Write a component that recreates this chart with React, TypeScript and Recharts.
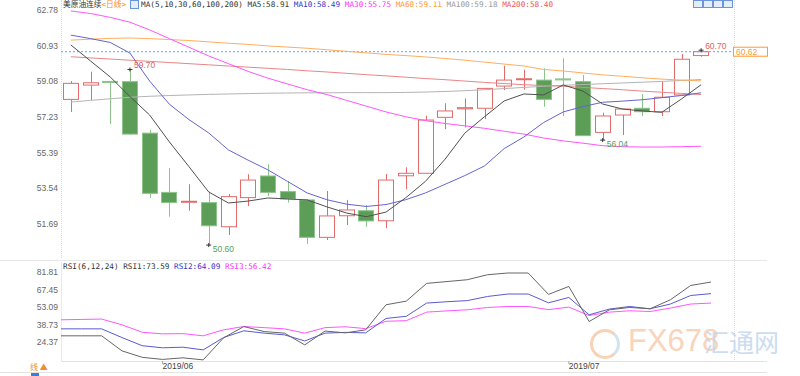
import React from 'react';
import { ComposedChart, Bar, Line, XAxis, YAxis, ReferenceLine, ReferenceDot } from 'recharts';

const dates = [
  '2019-05-27', '2019-05-28', '2019-05-29', '2019-05-30', '2019-05-31',
  '2019-06-03', '2019-06-04', '2019-06-05', '2019-06-06', '2019-06-07',
  '2019-06-10', '2019-06-11', '2019-06-12', '2019-06-13', '2019-06-14',
  '2019-06-17', '2019-06-18', '2019-06-19', '2019-06-20', '2019-06-21',
  '2019-06-24', '2019-06-25', '2019-06-26', '2019-06-27', '2019-06-28',
  '2019-07-01', '2019-07-02', '2019-07-03', '2019-07-04', '2019-07-05',
  '2019-07-08', '2019-07-09', '2019-07-10',
];
const open = [58.15, 58.89, 59.08, 59.07, 56.40, 53.33, 52.83, 52.80, 51.55, 53.06, 54.18, 53.37, 52.94, 51.00, 52.12, 52.38, 51.86, 54.19, 54.32, 57.22, 57.66, 57.69, 58.84, 59.18, 59.15, 59.21, 59.07, 56.44, 57.34, 57.69, 57.51, 58.38, 60.42];
const high = [59.10, 59.58, 59.08, 59.70, 56.56, 54.59, 53.75, 53.37, 53.25, 54.27, 54.79, 53.92, 52.98, 53.40, 52.94, 52.68, 54.28, 54.63, 57.30, 57.95, 58.20, 58.74, 59.89, 59.69, 59.76, 60.28, 59.41, 57.46, 57.65, 58.43, 59.07, 60.50, 60.70];
const low = [57.50, 58.12, 56.87, 56.33, 53.04, 52.07, 52.38, 50.60, 51.12, 52.62, 53.14, 52.80, 50.66, 50.86, 51.64, 51.55, 51.47, 53.49, 54.30, 56.61, 56.70, 57.13, 58.63, 58.65, 57.77, 57.29, 56.25, 56.04, 56.30, 57.29, 57.29, 58.36, 60.36];
const close = [58.98, 59.01, 59.04, 56.35, 53.28, 52.80, 52.87, 51.60, 53.11, 53.97, 53.33, 52.99, 51.00, 52.11, 52.42, 51.85, 53.97, 54.32, 57.08, 57.55, 57.72, 58.72, 59.15, 59.22, 58.15, 59.17, 56.27, 57.29, 57.65, 57.51, 58.26, 60.23, 60.62];

const ma5 = [60.97, 60.14, 59.31, 58.30, 57.34, 55.95, 54.66, 53.35, 52.78, 52.88, 53.04, 52.99, 52.94, 52.58, 52.26, 52.07, 52.31, 53.05, 53.90, 55.05, 56.40, 57.25, 58.07, 58.43, 58.38, 58.90, 58.58, 57.91, 57.65, 57.55, 57.48, 58.17, 58.91];
const ma10 = [61.48, 61.30, 61.10, 60.55, 59.10, 57.90, 57.10, 56.41, 55.53, 55.00, 54.50, 53.90, 53.30, 52.95, 52.72, 52.60, 52.70, 52.95, 53.30, 53.75, 54.20, 54.70, 55.60, 56.20, 56.95, 57.50, 57.78, 58.00, 58.06, 58.13, 58.24, 58.35, 58.49];
const ma30 = [62.73, 62.60, 62.40, 62.15, 61.75, 61.30, 60.85, 60.40, 60.00, 59.60, 59.25, 58.95, 58.65, 58.40, 58.10, 57.80, 57.50, 57.25, 57.05, 56.90, 56.78, 56.65, 56.50, 56.35, 56.15, 56.00, 55.88, 55.75, 55.70, 55.68, 55.68, 55.70, 55.72];
const ma60 = [61.22, 61.27, 61.31, 61.33, 61.30, 61.25, 61.20, 61.13, 61.06, 61.00, 60.92, 60.86, 60.80, 60.72, 60.64, 60.56, 60.48, 60.42, 60.35, 60.27, 60.18, 60.08, 59.98, 59.88, 59.70, 59.62, 59.52, 59.42, 59.35, 59.27, 59.20, 59.15, 59.11];
const ma100 = [58.01, 58.10, 58.18, 58.26, 58.31, 58.35, 58.38, 58.41, 58.43, 58.45, 58.47, 58.48, 58.49, 58.49, 58.50, 58.50, 58.50, 58.51, 58.53, 58.56, 58.60, 58.65, 58.71, 58.77, 58.83, 58.88, 58.92, 58.96, 59.00, 59.04, 59.08, 59.13, 59.18];
const ma200 = [60.36, 60.30, 60.24, 60.18, 60.12, 60.06, 60.00, 59.94, 59.88, 59.82, 59.76, 59.70, 59.63, 59.57, 59.50, 59.43, 59.37, 59.30, 59.23, 59.17, 59.10, 59.03, 58.97, 58.91, 58.87, 58.83, 58.77, 58.71, 58.65, 58.58, 58.52, 58.46, 58.40];

const rsi1 = [29.6, 29.6, 29.6, 17.3, 12.0, 10.3, 11.6, 9.9, 27.9, 37.2, 33.1, 31.8, 22.2, 33.5, 32.0, 34.5, 55.0, 58.0, 72.5, 74.0, 75.5, 79.6, 81.0, 81.0, 63.5, 70.0, 41.3, 50.9, 52.8, 51.7, 59.1, 70.8, 73.6];
const rsi2 = [35.3, 35.3, 35.3, 28.2, 21.5, 19.8, 20.3, 18.1, 28.2, 33.7, 31.8, 30.4, 25.4, 31.8, 32.4, 32.0, 43.8, 45.6, 56.4, 57.5, 58.4, 61.8, 63.8, 63.8, 56.6, 61.0, 46.8, 51.5, 53.6, 51.7, 55.6, 62.6, 64.1];
const rsi3 = [42.7, 43.0, 43.3, 38.6, 32.5, 31.2, 31.4, 29.6, 34.5, 37.2, 36.3, 35.3, 31.8, 36.3, 37.0, 35.5, 41.5, 42.0, 49.0, 50.0, 50.9, 52.8, 53.6, 53.6, 51.0, 53.1, 46.2, 49.0, 50.1, 49.5, 52.3, 55.6, 56.4];

const priceTicks = [51.69, 53.54, 55.39, 57.23, 59.08, 60.93, 62.78];
const rsiTicks = [24.37, 38.73, 53.09, 67.45, 81.81];
const monthTicks = ['2019-06-03', '2019-07-01'];
const monthLabels = ['2019/06', '2019/07'];
const lastClose = 60.62;
const marks = [
  { date: '2019-05-30', value: 59.7, kind: 'high' },
  { date: '2019-06-05', value: 50.6, kind: 'low' },
  { date: '2019-07-03', value: 56.04, kind: 'low' },
  { date: '2019-07-10', value: 60.7, kind: 'high' },
];

const data = dates.map((d, i) => ({
  date: d,
  open: open[i], high: high[i], low: low[i], close: close[i],
  ma5: ma5[i], ma10: ma10[i], ma30: ma30[i], ma60: ma60[i], ma100: ma100[i], ma200: ma200[i],
  rsi1: rsi1[i], rsi2: rsi2[i], rsi3: rsi3[i],
}));

const UP = '#e46a6a';
const DOWN = '#5c9e58';
const DOWN_WICK = '#8cc48a';
const axisFont = { fontSize: 8.5, fill: '#666', fontFamily: "'Liberation Sans', Arial, sans-serif" };
const mono = "'DejaVu Sans Mono', 'Noto Sans CJK SC', monospace";

const Candle = (props: any) => {
  const { x, y, width, height, payload } = props;
  if (!payload) return null;
  const top = Math.min(y, y + height);
  const h = Math.abs(height);
  const span = payload.high - payload.low || 1;
  const py = (v: number) => top + ((payload.high - v) / span) * h;
  const cx = Math.round(x + width / 2) + 0.5;
  const up = payload.close >= payload.open;
  const bTop = py(Math.max(payload.open, payload.close));
  const bBot = py(Math.min(payload.open, payload.close));
  const bh = Math.max(1, bBot - bTop);
  const bx = Math.round(x) + 0.5;
  if (up) {
    return (
      <g>
        <line x1={cx} x2={cx} y1={top} y2={bTop} stroke={UP} />
        <line x1={cx} x2={cx} y1={bTop + bh} y2={top + h} stroke={UP} />
        <rect x={bx} y={bTop} width={Math.round(width) - 1} height={bh} fill="#fff" stroke={UP} />
      </g>
    );
  }
  return (
    <g>
      <line x1={cx} x2={cx} y1={top} y2={top + h} stroke={DOWN_WICK} />
      <rect x={bx} y={bTop} width={Math.round(width) - 1} height={bh} fill={DOWN} stroke={DOWN_WICK} />
    </g>
  );
};

const Mark = (props: any) => {
  const { cx, cy, m } = props;
  if (cx == null || cy == null) return null;
  const hi = m.kind === 'high';
  return (
    <g>
      <line x1={cx - 2.5} x2={cx + 2.5} y1={cy} y2={cy} stroke="#333" />
      <line x1={cx} x2={cx} y1={cy - 2} y2={cy + 2} stroke="#333" />
      <text x={cx + 4} y={hi ? cy - 1 : cy + 7} fontSize={8.5} fill={hi ? '#e06060' : '#5aa05a'} fontFamily="'Liberation Sans', Arial, sans-serif">
        {m.value.toFixed(2)}
      </text>
    </g>
  );
};

const LastLabel = (props: any) => {
  const vb = props.viewBox;
  if (!vb) return null;
  const x = vb.x + vb.width - 1;
  return (
    <g>
      <rect x={x + 0.5} y={vb.y - 4.5} width={34} height={9} fill="#fff" stroke="#ff9933" />
      <text x={x + 3} y={vb.y + 3} fontSize={8.5} fill="#ff9933" fontFamily="'Liberation Sans', Arial, sans-serif">
        {lastClose.toFixed(2)}
      </text>
    </g>
  );
};

const MonthTick = (props: any) => {
  const { x, y, payload } = props;
  const i = monthTicks.indexOf(payload.value);
  return (
    <text x={x} y={y + 5} fontSize={8.5} fill="#444" fontFamily="'Liberation Sans', Arial, sans-serif">
      {i >= 0 ? monthLabels[i] : ''}
    </text>
  );
};

const pad = { left: 0, right: 23 };

export default function App() {
  return (
    <div style={{ position: 'absolute', left: 0, top: 0, width: 800, height: 376, background: '#fff', overflow: 'hidden', fontFamily: mono }}>
      <div style={{ position: 'absolute', left: 61, top: 0, height: 258, borderLeft: '1px dotted #d6dde8' }} />
      <div style={{ position: 'absolute', left: 734, top: 0, height: 362, borderLeft: '1px dotted #d6dde8' }} />
      <div style={{ position: 'absolute', left: 61, top: 262, height: 100, borderLeft: '1px solid #e6e9ee' }} />
      <div style={{ position: 'absolute', left: 0, top: 260, width: 767, borderTop: '1px solid #e8e8e8' }} />
      <div style={{ position: 'absolute', left: 61, top: 361, width: 706, borderTop: '1px solid #e3e3e3' }} />
      <div style={{ position: 'absolute', left: 0, top: 372, width: 767, borderTop: '1px solid #e3e3e3' }} />

      <div style={{ position: 'absolute', left: 590, top: 329, width: 24, height: 24, borderRadius: '50%', border: '3px solid #f6c7a6', borderRightColor: '#c8dbf1', opacity: 0.8 }} />
      <div style={{ position: 'absolute', left: 628, top: 322, fontSize: 31, lineHeight: '38px', color: '#f8cdb0', fontFamily: "'Liberation Sans', Arial, sans-serif", opacity: 0.85 }}>FX678</div>
      <div style={{ position: 'absolute', left: 704, top: 325, fontSize: 25, lineHeight: '32px', color: '#c4d7ef', fontFamily: "'Noto Sans CJK SC', sans-serif", opacity: 0.85 }}>汇通网</div>

      <div style={{ position: 'absolute', left: 0, top: 0 }}>
        <ComposedChart width={800} height={258} data={data} margin={{ top: 0, right: 0, bottom: 0, left: 0 }}>
          <XAxis dataKey="date" hide padding={pad} />
          <YAxis yAxisId="l" orientation="left" width={61} type="number" domain={[49.93, 63.3]} ticks={priceTicks} interval={0}
            tickLine={false} axisLine={false} tickSize={0} tickMargin={3} tick={axisFont} />
          <YAxis yAxisId="r" orientation="right" width={66} type="number" domain={[49.93, 63.3]} ticks={priceTicks} interval={0}
            tickLine={false} axisLine={false} tickSize={0} tickMargin={2} tick={axisFont} />
          <ReferenceLine yAxisId="l" y={lastClose} stroke="#5aa8ff" strokeDasharray="2 2" label={(p: any) => <LastLabel {...p} />} />
          <Line yAxisId="l" dataKey="ma100" stroke="#b4b4b4" dot={false} isAnimationActive={false} />
          <Line yAxisId="l" dataKey="ma200" stroke="#ea8585" dot={false} isAnimationActive={false} />
          <Line yAxisId="l" dataKey="ma60" stroke="#ffad60" dot={false} isAnimationActive={false} />
          <Line yAxisId="l" dataKey="ma30" stroke="#ff55ff" dot={false} isAnimationActive={false} />
          <Bar yAxisId="l" dataKey={(d: any) => [d.low, d.high]} barSize={16} isAnimationActive={false}
            shape={(p: any) => <Candle {...p} />} />
          <Line yAxisId="l" dataKey="ma10" stroke="#6464d2" dot={false} isAnimationActive={false} />
          <Line yAxisId="l" dataKey="ma5" stroke="#505050" dot={false} isAnimationActive={false} />
          {marks.map((m) => (
            <ReferenceDot key={m.date} yAxisId="l" x={m.date} y={m.value} r={0} shape={(p: any) => <Mark {...p} m={m} />} />
          ))}
        </ComposedChart>
      </div>

      <div style={{ position: 'absolute', left: 0, top: 262 }}>
        <ComposedChart width={800} height={112} data={data} margin={{ top: 0, right: 0, bottom: 0, left: 0 }}>
          <XAxis dataKey="date" padding={pad} height={13} ticks={monthTicks} interval={0} axisLine={false}
            tickLine={{ stroke: '#aaa' }} tickSize={3} tickMargin={0} tick={(p: any) => <MonthTick {...p} />} />
          <YAxis yAxisId="l" orientation="left" width={61} type="number" domain={[9, 90]} ticks={rsiTicks} interval={0}
            tickLine={false} axisLine={false} tickSize={0} tickMargin={3} tick={axisFont} />
          <YAxis yAxisId="r" orientation="right" width={66} type="number" domain={[9, 90]} ticks={rsiTicks} interval={0}
            tickLine={false} axisLine={false} tickSize={0} tickMargin={2} tick={axisFont} />
          <Line yAxisId="l" dataKey="rsi3" stroke="#ff55ff" dot={false} isAnimationActive={false} />
          <Line yAxisId="l" dataKey="rsi2" stroke="#5a5ad0" dot={false} isAnimationActive={false} />
          <Line yAxisId="l" dataKey="rsi1" stroke="#666" dot={false} isAnimationActive={false} />
        </ComposedChart>
      </div>

      <div style={{ position: 'absolute', left: 63, top: 0, fontSize: 7.7, lineHeight: '10px', whiteSpace: 'pre', color: '#333' }}>
        <span>美原油连续</span>
        <span style={{ color: '#ff8a1a' }}>{'<日线>'}</span>
        <span style={{ display: 'inline-block', width: 7, height: 7, margin: '0 2px 0 4px', border: '1px solid #6b95d8', background: '#e4eefb', verticalAlign: 'middle' }} />
        <span>{'MA(5,10,30,60,100,200) MA5:58.91 '}</span>
        <span style={{ color: '#3535c8' }}>{'MA10:58.49 '}</span>
        <span style={{ color: '#ff33ff' }}>{'MA30:55.75 '}</span>
        <span style={{ color: '#ff9933' }}>{'MA60:59.11 '}</span>
        <span style={{ color: '#999' }}>{'MA100:59.18 '}</span>
        <span style={{ color: '#ee5555' }}>{'MA200:58.40'}</span>
      </div>

      <div style={{ position: 'absolute', left: 63, top: 262, fontSize: 7.7, lineHeight: '10px', whiteSpace: 'pre', color: '#333' }}>
        <span>{'RSI(6,12,24) RSI1:73.59 '}</span>
        <span style={{ color: '#3535c8' }}>{'RSI2:64.09 '}</span>
        <span style={{ color: '#ff33ff' }}>{'RSI3:56.42'}</span>
      </div>

      {[0, 1, 2, 3].map((k) => (
        <div key={k} style={{ position: 'absolute', left: 693 + k * 10, top: 0, width: 8, height: 6, border: '1px solid #6b95d8', background: '#e4eefb' }} />
      ))}

      <div style={{ position: 'absolute', left: 30, top: 362, fontSize: 8, color: '#f08c2c', fontFamily: "'Noto Sans CJK SC', sans-serif", lineHeight: '10px' }}>线 ▲</div>
      <div style={{ position: 'absolute', left: 31, top: 373, width: 8, height: 3, background: '#3b7dd8' }} />
    </div>
  );
}
